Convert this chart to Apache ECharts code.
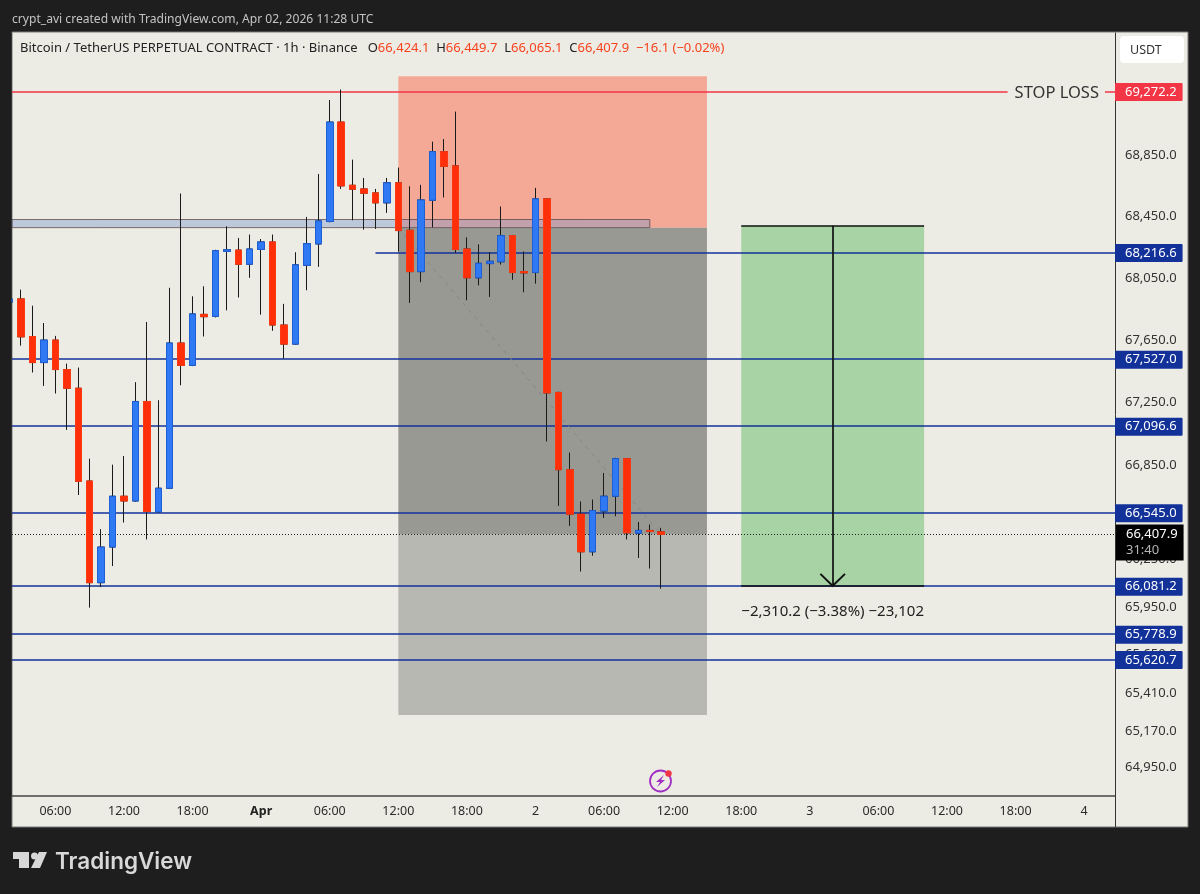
<!DOCTYPE html>
<html>
<head>
<meta charset="utf-8">
<title>BTCUSDT.P 1h</title>
<style>
  html, body { margin: 0; padding: 0; background: #1e1e1e; }
  #chart { width: 1200px; height: 894px; }
</style>
<script src="https://cdn.jsdelivr.net/npm/echarts@6/dist/echarts.min.js"></script>
</head>
<body>
<div id="chart"></div>
<script>
// hourly bars, first one is 2026-03-31 02:00 UTC
var firstBar = Date.UTC(2026, 2, 31, 2);
var HOUR = 3600000;

// open, close, low, high
var candles = [
  [67895,67915,67885,67925],[67916,67671,67614,67976],[67673,67505,67441,67872],[67505,67650,67355,67760],
  [67650,67460,67306,67677],[67460,67340,67073,67498],[67340,66745,66658,67473],[66747,66103,65946,66889],
  [66103,66328,66075,66441],[66328,66650,66208,66851],[66650,66620,66483,66906],[66620,67255,66615,67379],
  [67255,66553,66376,67767],[66550,66701,66545,67263],[66701,67631,66696,67988],[67631,67487,67359,68602],
  [67487,67819,67482,67933],[67816,67801,67673,67998],[67803,68229,67796,68235],[68224,68235,67842,68388],
  [68233,68141,67925,68312],[68141,68240,68053,68334],[68237,68286,67814,68305],[68286,67747,67710,68334],
  [67747,67624,67531,67884],[67624,68137,67619,68219],[68134,68275,67972,68449],[68273,68423,68124,68730],
  [68419,69071,68414,69216],[69071,68652,68632,69286],[68656,68630,68427,68824],[68632,68604,68366,68704],
  [68606,68541,68371,68632],[68541,68672,68475,68704],[68672,68360,68223,68772],[68362,68093,67890,68649],
  [68093,68560,68024,68659],[68558,68876,68381,68942],[68876,68780,68576,68959],[68783,68237,68215,69140],
  [68240,68053,67907,68316],[68053,68147,68004,68270],[68145,68160,67929,68219],[68157,68327,68139,68517],
  [68327,68087,68040,68332],[68093,68085,67959,68224],[68087,68567,68015,68639],[68567,67310,66999,68572],
  [67313,66819,66589,67318],[66819,66536,66462,66929],[66536,66298,66173,66617],[66298,66559,66273,66629],
  [66556,66650,66512,66798],[66650,66889,66523,66895],[66889,66418,66376,66894],[66416,66433,66259,66487],
  [66433,66427,66192,66471],[66424.1,66407.9,66065.1,66449.7]
];

var priceTicks = [68850, 68450, 68050, 67650, 67250, 66850, 66250, 65950, 65650, 65410, 65170, 64950];
var timeTicks = [
  ['2026-03-31T06:00Z','06:00'],['2026-03-31T12:00Z','12:00'],['2026-03-31T18:00Z','18:00'],['2026-04-01T00:00Z','Apr'],
  ['2026-04-01T06:00Z','06:00'],['2026-04-01T12:00Z','12:00'],['2026-04-01T18:00Z','18:00'],['2026-04-02T00:00Z','2'],
  ['2026-04-02T06:00Z','06:00'],['2026-04-02T12:00Z','12:00'],['2026-04-02T18:00Z','18:00'],['2026-04-03T00:00Z','3'],
  ['2026-04-03T06:00Z','06:00'],['2026-04-03T12:00Z','12:00'],['2026-04-03T18:00Z','18:00'],['2026-04-04T00:00Z','4']
];
var stopLoss = 69272.2;
var lastPrice = 66407.9;
var levels = [67527.0, 67096.6, 66545.0, 66081.2, 65778.9, 65620.7];
var shortLevel = 68216.6;

var FONT = '"Noto Sans", sans-serif';
var PANEL = '#edece4';
var BLUE_LINE = '#12329a';
var viewMin = Date.UTC(2026, 2, 31, 6) - 3.8 * HOUR;
var viewMax = viewMin + 96.5 * HOUR;
var priceMin = 64772, priceMax = 69660;

function T(s) { return new Date(s).getTime(); }
function fmt(v) { return v.toLocaleString('en-US', { minimumFractionDigits: 1, maximumFractionDigits: 1 }); }

var barData = candles.map(function (c, i) { return [firstBar + i * HOUR, c[0], c[1], c[2], c[3]]; });
var bodyData = candles.map(function (c, i) {
  return [firstBar + i * HOUR, c[0], c[1], Math.min(c[0], c[1]), Math.max(c[0], c[1])];
});

// position tool
var entry = 68379, toolTop = 69373, toolBottom = 65274;
var toolLeft = T('2026-04-01T12:00Z'), toolRight = T('2026-04-02T15:00Z');
// measure tool
var measureTop = 68391.4, measureBottom = 66081.2;
var measureLeft = T('2026-04-02T18:00Z'), measureRight = T('2026-04-03T10:00Z'), measureMid = T('2026-04-03T02:00Z');

function area(x1, y1, x2, y2, style) {
  return [{ coord: [x1, y1], itemStyle: style }, { coord: [x2, y2] }];
}
function tagLine(price, color, xStart) {
  var lab = {
    show: true, position: 'end', distance: 0, formatter: fmt(price), offset: [0, 0.5],
    backgroundColor: color, color: '#fff', fontFamily: FONT, fontSize: 13,
    padding: [3, 6, 2, 10], borderRadius: 1
  };
  var style = { color: color, width: 1.7, type: 'solid' };
  if (xStart) {
    return [{ coord: [xStart, price], lineStyle: style, label: lab }, { coord: [viewMax, price] }];
  }
  return { yAxis: price, lineStyle: style, label: lab };
}

var lineData = [
  tagLine(stopLoss, '#f23645'),
  tagLine(shortLevel, BLUE_LINE, T('2026-04-01T10:00Z'))
].concat(levels.map(function (p) { return tagLine(p, BLUE_LINE); }));

lineData.push({ yAxis: lastPrice, lineStyle: { color: '#222', width: 1, type: [1, 2] }, label: { show: false } });
// dashed trade line
lineData.push([
  { coord: [toolLeft, entry], lineStyle: { color: '#85858a', width: 1, type: [4, 5] }, label: { show: false } },
  { coord: [firstBar + 57 * HOUR, lastPrice] }
]);
// measure tool edges and arrow
lineData.push([
  { coord: [measureLeft, measureTop], lineStyle: { color: '#111', width: 1.7, type: 'solid' }, label: { show: false } },
  { coord: [measureRight, measureTop] }
]);
lineData.push([
  { coord: [measureLeft, measureBottom], lineStyle: { color: '#111', width: 1.7, type: 'solid' }, label: { show: false } },
  { coord: [measureRight, measureBottom] }
]);
lineData.push([
  { coord: [measureMid, measureTop], lineStyle: { color: '#111', width: 1.7, type: 'solid' }, label: { show: false } },
  { coord: [measureMid, measureBottom],
    symbol: 'path://M0,13 L13,0 L26,13 L24.6,14.4 L13,2.8 L1.4,14.4 Z', symbolSize: [26, 14], symbolOffset: [0, 6] }
]);

var chart = echarts.init(document.getElementById('chart'), null, { renderer: 'canvas' });
chart.setOption({
  animation: false,
  useUTC: true,
  backgroundColor: '#1e1e1e',
  title: [
    { text: 'crypt_avi created with TradingView.com, Apr 02, 2026 11:28 UTC', left: 7, top: 9,
      textStyle: { color: '#c4c4c4', fontSize: 12.1, fontWeight: 'normal', fontFamily: FONT } },
    { text: 'Bitcoin / TetherUS PERPETUAL CONTRACT · 1h · Binance   O{r|66,424.1}  H{r|66,449.7}  L{r|66,065.1}  C{r|66,407.9}  {r|−16.1 (−0.02%)}',
      left: 15, top: 37,
      textStyle: { color: '#222', fontSize: 13, fontWeight: 'normal', fontFamily: FONT,
        rich: { r: { color: '#f7421e', fontSize: 13, fontFamily: FONT } } } }
  ],
  grid: { left: 12, top: 33, width: 1103, height: 763, show: false },
  xAxis: {
    type: 'value', min: viewMin, max: viewMax, scale: true,
    axisLine: { show: true, onZero: false, lineStyle: { color: '#444', width: 1.5 } },
    axisTick: { show: false },
    splitLine: { show: false },
    axisLabel: {
      customValues: timeTicks.map(function (d) { return T(d[0]); }),
      margin: 9,
      fontFamily: FONT, fontSize: 12.5, color: '#2a2a2a',
      formatter: function (v) {
        for (var i = 0; i < timeTicks.length; i++) {
          if (T(timeTicks[i][0]) === v) {
            return timeTicks[i][1] === 'Apr' ? '{b|Apr}' : timeTicks[i][1];
          }
        }
        return '';
      },
      rich: { b: { fontWeight: 'bold', fontFamily: FONT, fontSize: 12.5, color: '#222' } }
    }
  },
  yAxis: {
    type: 'log', logBase: 10, position: 'right', min: priceMin, max: priceMax,
    axisLine: { show: true, onZero: false, lineStyle: { color: '#333', width: 1 } },
    axisTick: { show: false },
    splitLine: { show: false },
    axisLabel: {
      customValues: priceTicks, margin: 10,
      fontFamily: FONT, fontSize: 13, color: '#333',
      formatter: function (v) { return fmt(v); }
    }
  },
  series: [
    {
      name: 'wicks', type: 'candlestick', z: 2, barWidth: 7, clip: true,
      encode: { x: 0, y: [1, 2, 3, 4] },
      data: barData,
      itemStyle: { color: '#2f79f5', color0: '#ff2f0a', borderColor: '#1a1a1a', borderColor0: '#1a1a1a', borderColorDoji: '#1a1a1a', borderWidth: 1 },
      markArea: {
        silent: true, z: 1,
        data: [
          area(toolLeft, toolTop, toolRight, entry, { color: '#f4a996' }),
          area(toolLeft, entry, toolRight, lastPrice, { color: '#999993' }),
          area(toolLeft, lastPrice, toolRight, toolBottom, { color: '#b8b8b2' }),
          area(viewMin, 68432, firstBar + 56 * HOUR, entry, { color: 'rgba(125,150,205,0.42)', borderColor: 'rgba(90,70,70,0.75)', borderWidth: 1 }),
          area(measureLeft, measureTop, measureRight, measureBottom, { color: '#a7d3a5' })
        ]
      },
      markLine: {
        silent: true, z: 1.5, symbol: ['none', 'none'], precision: 1,
        label: { show: false },
        data: lineData
      },
      markPoint: {
        silent: true, z: 6, symbol: 'circle', symbolSize: 0,
        data: [
          { coord: [viewMin + 91.45 * HOUR, stopLoss],
            label: { show: true, position: 'inside', formatter: 'STOP LOSS', color: '#333', fontFamily: FONT, fontSize: 16.5,
              offset: [-1, 1.5], backgroundColor: PANEL, padding: [3, 6, 1, 7] } },
          { coord: [measureMid, 65919],
            label: { show: true, position: 'inside', formatter: '−2,310.2 (−3.38%) −23,102', color: '#222', fontFamily: FONT, fontSize: 15 } },
          { coord: [viewMax, lastPrice],
            label: { show: true, position: 'right', distance: 1, offset: [0, 8], align: 'left',
              formatter: '{a|' + fmt(lastPrice) + '}\n{b|31:40}', backgroundColor: '#000', padding: [2, 6, 2, 10],
              rich: { a: { color: '#fff', fontFamily: FONT, fontSize: 13, lineHeight: 16 },
                      b: { color: '#b5b5b5', fontFamily: FONT, fontSize: 13, lineHeight: 16 } } } }
        ]
      }
    },
    {
      name: 'bodies', type: 'candlestick', z: 3, barWidth: 7, clip: true,
      encode: { x: 0, y: [1, 2, 3, 4] },
      data: bodyData,
      itemStyle: { color: '#2f79f5', color0: '#ff2f0a', borderColor: '#1f5fd6', borderColor0: '#ff3a12', borderColorDoji: '#ff3a12', borderWidth: 1 }
    }
  ],
  graphic: [
    { type: 'rect', z: -10, shape: { x: 12, y: 32, width: 1176, height: 795 }, style: { fill: PANEL, stroke: '#777', lineWidth: 1 } },
    // hides the part of the first bar that falls left of the pane
    { type: 'rect', z: 20, shape: { x: 0, y: 33, width: 11.5, height: 763 }, style: { fill: '#1e1e1e' } },
    { type: 'line', z: 10, shape: { x1: 1115.5, y1: 796, x2: 1115.5, y2: 827 }, style: { stroke: '#333', lineWidth: 1 } },
    { type: 'rect', z: 10, shape: { x: 1120, y: 36, width: 64, height: 27, r: 4 }, style: { fill: '#fff' } },
    { type: 'text', z: 11, x: 1130, y: 44, style: { text: 'USDT', fill: '#333', font: '12.5px ' + FONT } },
    // lightning badge
    { type: 'circle', z: 10, shape: { cx: 660.5, cy: 781, r: 10.5 }, style: { fill: PANEL, stroke: '#a02fc4', lineWidth: 1.8 } },
    { type: 'polygon', z: 11, shape: { points: [[664, 775], [656, 782], [660, 782], [657, 787], [665, 780], [661, 780]] }, style: { fill: '#a02fc4' } },
    { type: 'circle', z: 12, shape: { cx: 668.5, cy: 773.5, r: 3.2 }, style: { fill: '#f23645' } },
    // TradingView logo
    { type: 'polygon', z: 10, shape: { points: [[13, 852], [29, 852], [29, 868], [19, 868], [19, 859], [13, 859]] }, style: { fill: '#d8d8d8' } },
    { type: 'circle', z: 10, shape: { cx: 34.5, cy: 856, r: 3.5 }, style: { fill: '#d8d8d8' } },
    { type: 'polygon', z: 10, shape: { points: [[39, 852], [47, 852], [40, 868], [31, 868]] }, style: { fill: '#d8d8d8' } },
    { type: 'text', z: 10, x: 55, y: 851, style: { text: 'TradingView', fill: '#d8d8d8', font: '600 22.5px Inter, sans-serif' } }
  ]
});
</script>
</body>
</html>
